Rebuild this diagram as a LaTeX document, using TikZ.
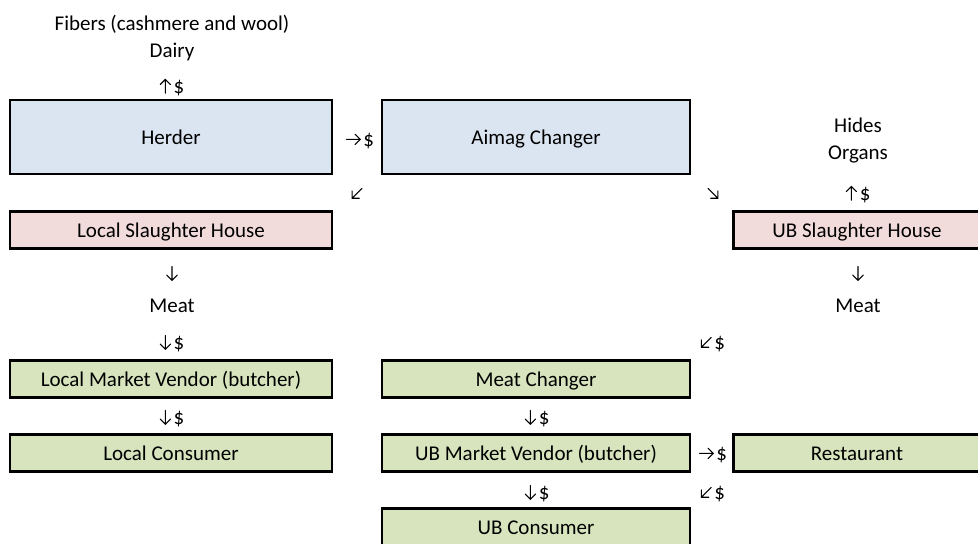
\documentclass[tikz,border=0pt]{standalone}
\usepackage{fontspec}
\setmainfont{Carlito}
\usetikzlibrary{positioning}
\definecolor{changerblue}{HTML}{DBE5F1}
\definecolor{slaughterpink}{HTML}{F2DCDB}
\definecolor{meatgreen}{HTML}{D7E4BD}
\tikzset{
	x=0.75pt, y=-0.75pt,
	box/.style ={rectangle, draw, line width=2pt, inner sep=0pt, text height=12.5pt, text depth=2pt},
	wide/.style ={box, minimum width=241.5pt},
	mid/.style ={box, minimum width=231pt},
	tall/.style ={minimum height=55.5pt},
	flat/.style ={minimum height=27.5pt},
	lbl/.style ={inner sep=0pt, text height=12.5pt, text depth=2pt},
	glyph/.style ={line width=0.8pt, line cap=round}
}
% small open-headed arrow, #1 is its direction in degrees
\newcommand{\flowarr}[1]{\tikz[baseline=-5pt, x=1pt, y=1pt]\draw[glyph, rotate=#1] (-5.2,0) -- (5.2,0) (1.3,3.9) -- (5.2,0) -- (1.3,-3.9);}
% arrow followed by a dollar sign
\newcommand{\flow}[1]{\flowarr{#1}\kern2pt\$}

\begin{document}
\begin{tikzpicture}[font=\fontsize{15.75}{19}\selectfont]
    \clip (0,0) rectangle (978,543);

    % what leaves the herder
    \node[lbl] (fibers) at (172,23) {Fibers (cashmere and wool)};
    \node[lbl] (dairy) at (172,50) {Dairy};
    \node[lbl] (herderup) at (172,86) {\flow{90}};

    \node[wide, tall, fill=changerblue] (herder) at (171,137) {Herder};
    \node[lbl] (toaimag) at (360,139) {\flow{0}};
    \node[mid, tall, fill=changerblue] (aimag) at (536,137) {Aimag Changer};

    \node[lbl] (tolocal) at (357,193) {\flowarr{225}};
    \node[lbl] (toub) at (713,193) {\flowarr{-45}};

    % slaughter houses
    \node[lbl] (hides) at (858,125) {Hides};
    \node[lbl] (organs) at (858,152) {Organs};
    \node[lbl] (ubshup) at (858,193) {\flow{90}};

    \node[wide, flat, fill=slaughterpink] (localsh) at (171,230) {Local Slaughter House};
    \node[box, flat, minimum width=185pt, fill=slaughterpink] (ubsh) at (857,230) {UB Slaughter House};

    \node[lbl] (localdown) at (172,273) {\flowarr{-90}};
    \node[lbl] (ubdown) at (858,273) {\flowarr{-90}};
    \node[lbl] (localmeat) at (172,305) {Meat};
    \node[lbl] (ubmeat) at (858,305) {Meat};
    \node[lbl] (localpay) at (172,342) {\flow{-90}};
    \node[lbl] (ubpay) at (713,342) {\flow{225}};

    % meat trade
    \node[wide, flat, fill=meatgreen] (localvendor) at (171,379) {Local Market Vendor (butcher)};
    \node[mid, flat, fill=meatgreen] (meatchanger) at (536,379) {Meat Changer};

    \node[lbl] (localbuy) at (172,417) {\flow{-90}};
    \node[lbl] (vendorpay) at (537,417) {\flow{-90}};

    \node[wide, flat, fill=meatgreen] (localcons) at (171,453) {Local Consumer};
    \node[mid, flat, fill=meatgreen] (ubvendor) at (536,453) {UB Market Vendor (butcher)};
    \node[lbl] (torest) at (713,453) {\flow{0}};
    \node[box, flat, minimum width=185pt, fill=meatgreen] (rest) at (857,453) {Restaurant};

    \node[lbl] (ubbuy) at (537,492) {\flow{-90}};
    \node[lbl] (restpay) at (713,492) {\flow{225}};
    \node[mid, flat, fill=meatgreen] (ubcons) at (536,527) {UB Consumer};
\end{tikzpicture}
\end{document}
